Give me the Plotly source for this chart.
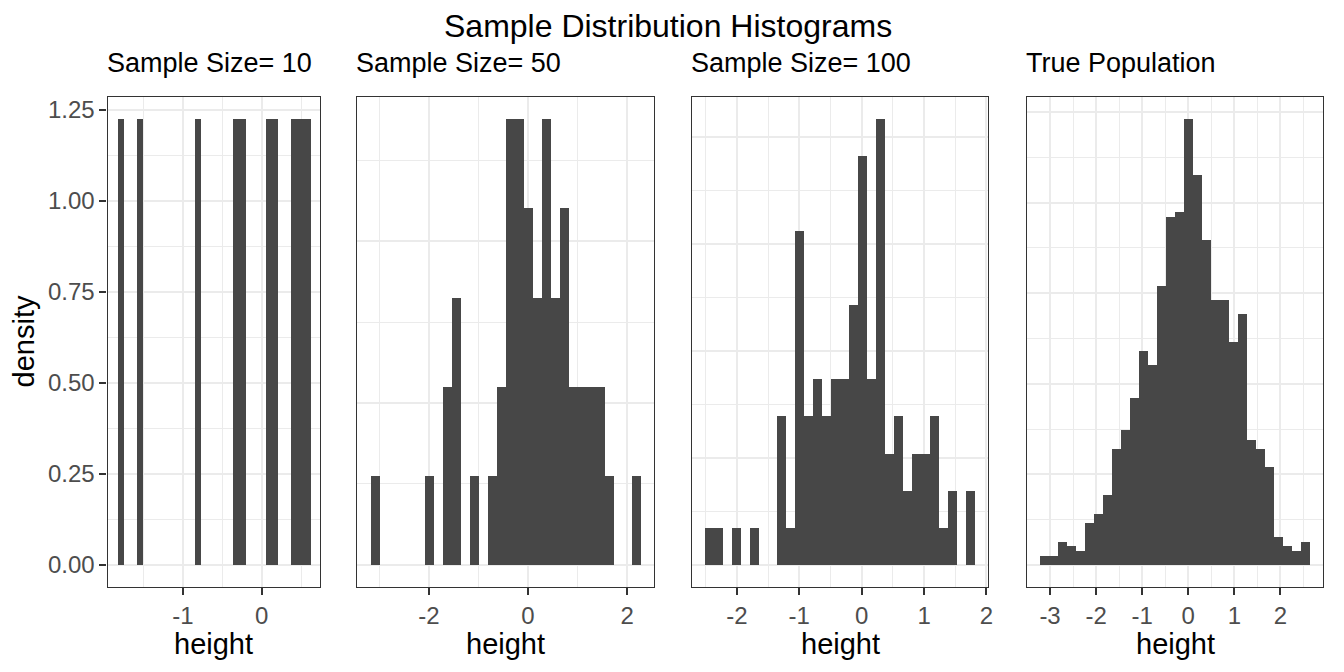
import plotly.graph_objects as go

# bin counts (30 bins per panel, ggplot default)
panel_titles = ["Sample Size= 10", "Sample Size= 50", "Sample Size= 100", "True Population"]
sample_sizes = [10, 50, 100, 1000]
bin_starts = [-1.835, -3.176, -2.507, -3.211]
bin_widths = [0.0817, 0.1816, 0.144, 0.195]

counts_10 = [1, 0, 0, 1, 0, 0, 0, 0, 0, 0, 0, 0, 1, 0, 0,
             0, 0, 0, 1, 1, 0, 0, 0, 1, 1, 0, 0, 1, 1, 1]
counts_50 = [1, 0, 0, 0, 0, 0, 1, 0, 2, 3, 0, 1, 0, 1, 2,
             5, 5, 4, 3, 5, 3, 4, 2, 2, 2, 2, 1, 0, 0, 1]
counts_100 = [1, 1, 0, 1, 0, 1, 0, 0, 4, 1, 9, 4, 5, 4, 5,
              5, 7, 11, 5, 12, 3, 4, 2, 3, 3, 4, 1, 2, 0, 2]
counts_pop = [2, 2, 5, 4, 3, 9, 11, 15, 25, 29, 36, 46, 43, 60, 75,
              76, 96, 84, 70, 57, 57, 48, 54, 27, 25, 21, 6, 4, 3, 5]
all_counts = [counts_10, counts_50, counts_100, counts_pop]

x_tick_vals = [[-1, 0], [-2, 0, 2], [-2, -1, 0, 1, 2], [-3, -2, -1, 0, 1, 2]]
x_minor_step = [0.5, 1, 0.5, 0.5]
y_tick_step = [0.25, 0.2, 0.2, 0.1]
y1_tick_vals = [0, 0.25, 0.5, 0.75, 1.0, 1.25]
y1_tick_text = ["0.00", "0.25", "0.50", "0.75", "1.00", "1.25"]

# the page body has an 8px margin, so the figure is drawn 8px smaller and
# every pixel position below is given in window coordinates minus OFF
OFF = 8
W, H = 1344 - 2 * OFF, 672 - 2 * OFF
FONT = "Liberation Sans, Arial, Helvetica, sans-serif"
BAR = "#474747"
GRID = "#EBEBEB"
EDGE = "#333333"
TICKFONT = dict(family=FONT, size=24, color="#4D4D4D")


def px_x(v):
    return (v - OFF) / W


def px_y(v):
    return 1 - (v - OFF) / H


# panel boxes in window pixels
x_px = [(108, 321), (358.3, 656.7), (694.3, 992), (1030.7, 1328.3)]
y_dom = [px_y(587), px_y(96)]

fig = go.Figure()
annos = []

for k in range(4):
    bw = bin_widths[k]
    centers = [bin_starts[k] + (i + 0.5) * bw for i in range(len(all_counts[k]))]
    dens = [c / (sample_sizes[k] * bw) for c in all_counts[k]]
    sfx = "" if k == 0 else str(k + 1)
    fig.add_trace(go.Bar(x=centers, y=dens, width=bw, marker=dict(color=BAR, line=dict(width=0)),
                         xaxis="x" + sfx, yaxis="y" + sfx, showlegend=False))

    span = bw * len(all_counts[k])
    lo, hi = bin_starts[k], bin_starts[k] + span
    ymax = max(dens)
    xd = [px_x(x_px[k][0]), px_x(x_px[k][1])]

    xax = dict(domain=xd, range=[lo - 0.05 * span, hi + 0.05 * span], anchor="y" + sfx,
               tickmode="array", tickvals=x_tick_vals[k], ticktext=[str(v) for v in x_tick_vals[k]],
               ticks="outside", ticklen=7, tickwidth=2, tickcolor=EDGE, tickfont=TICKFONT,
               showgrid=True, gridcolor=GRID, gridwidth=2, zeroline=False,
               minor=dict(dtick=x_minor_step[k], tick0=0, showgrid=True, gridcolor=GRID, gridwidth=1),
               showline=True, mirror=True, linecolor=EDGE, linewidth=1.3)
    yax = dict(domain=y_dom, range=[-0.05 * ymax, 1.05 * ymax], anchor="x" + sfx,
               dtick=y_tick_step[k], tick0=0,
               showgrid=True, gridcolor=GRID, gridwidth=2, zeroline=False,
               minor=dict(dtick=y_tick_step[k] / 2, tick0=0, showgrid=True, gridcolor=GRID, gridwidth=1),
               showline=True, mirror=True, linecolor=EDGE, linewidth=1.3)
    if k == 0:
        yax.update(tickmode="array", tickvals=y1_tick_vals, ticktext=y1_tick_text,
                   ticks="outside", ticklen=7, tickwidth=2, tickcolor=EDGE, tickfont=TICKFONT)
    else:
        yax.update(showticklabels=False, ticks="")
    fig.update_layout(**{"xaxis" + sfx: xax, "yaxis" + sfx: yax})

    # panel title and x axis title
    annos.append(dict(text=panel_titles[k], x=px_x(x_px[k][0] - 3), y=px_y(62), xref="paper", yref="paper",
                      xanchor="left", yanchor="middle", showarrow=False,
                      font=dict(family=FONT, size=27, color="black")))
    annos.append(dict(text="height", x=(xd[0] + xd[1]) / 2, y=px_y(644), xref="paper", yref="paper",
                      xanchor="center", yanchor="middle", showarrow=False, borderpad=0,
                      font=dict(family=FONT, size=29, color="black")))

annos.append(dict(text="density", x=px_x(25), y=px_y(341), xref="paper", yref="paper", textangle=-90,
                  xanchor="center", yanchor="middle", showarrow=False,
                  font=dict(family=FONT, size=29, color="black")))
annos.append(dict(text="Sample Distribution Histograms", x=px_x(670), y=px_y(25), xref="paper", yref="paper",
                  xanchor="center", yanchor="middle", showarrow=False,
                  font=dict(family=FONT, size=32, color="black")))

fig.update_layout(width=W, height=H, margin=dict(l=0, r=0, t=0, b=0),
                  paper_bgcolor="white", plot_bgcolor="white",
                  bargap=0, annotations=annos, showlegend=False)

fig.write_html("out.html")
